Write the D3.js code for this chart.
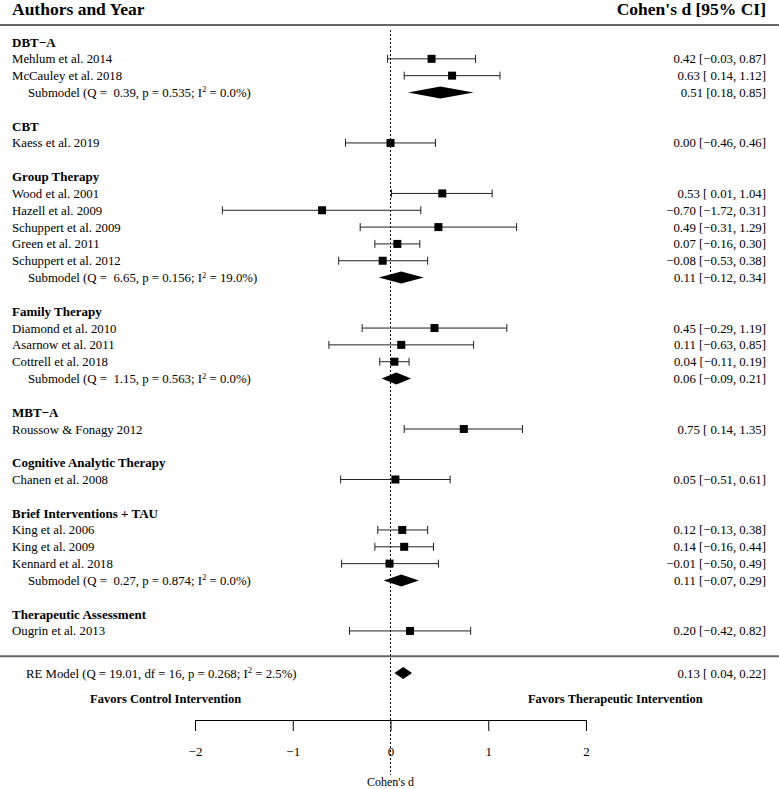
<!DOCTYPE html>
<html><head><meta charset="utf-8">
<script src="https://cdn.jsdelivr.net/npm/d3@7"></script>
<style>
body{margin:0;background:#fff;}
text{font-family:"Liberation Serif","Times New Roman",serif;fill:#000;white-space:pre;}
</style></head>
<body><svg id="c" width="779" height="789"></svg>
<script>
// ---- data ----
const groups = ["DBT−A","CBT","Group Therapy","Family Therapy","MBT−A","Cognitive Analytic Therapy","Brief Interventions + TAU","Therapeutic Assessment"];
const studies = ["Mehlum et al. 2014","McCauley et al. 2018","Kaess et al. 2019","Wood et al. 2001","Hazell et al. 2009","Schuppert et al. 2009","Green et al. 2011","Schuppert et al. 2012","Diamond et al. 2010","Asarnow et al. 2011","Cottrell et al. 2018","Roussow & Fonagy 2012","Chanen et al. 2008","King et al. 2006","King et al. 2009","Kennard et al. 2018","Ougrin et al. 2013"];
const studyGroup = [0,0,1,2,2,2,2,2,3,3,3,4,5,6,6,6,7];
const studyEst = [0.42,0.63,0.00,0.53,-0.70,0.49,0.07,-0.08,0.45,0.11,0.04,0.75,0.05,0.12,0.14,-0.01,0.20];
const studyLo  = [-0.03,0.14,-0.46,0.01,-1.72,-0.31,-0.16,-0.53,-0.29,-0.63,-0.11,0.14,-0.51,-0.13,-0.16,-0.50,-0.42];
const studyHi  = [0.87,1.12,0.46,1.04,0.31,1.29,0.30,0.38,1.19,0.85,0.19,1.35,0.61,0.38,0.44,0.49,0.82];
const subGroup = [0,2,3,6];
const subQ  = ["0.39","6.65","1.15","0.27"];
const subP  = ["0.535","0.156","0.563","0.874"];
const subI2 = ["0.0","19.0","0.0","0.0"];
const subEst = [0.51,0.11,0.06,0.11];
const subLo  = [0.18,-0.12,-0.09,-0.07];
const subHi  = [0.85,0.34,0.21,0.29];
const reStats = {Q:"19.01", df:"16", p:"0.268", I2:"2.5"};
const reEst = 0.13, reLo = 0.04, reHi = 0.22;
const axisTicks = [-2,-1,0,1,2];

// ---- layout rows ----
const rows = [];
let r = 0;
groups.forEach((g,gi)=>{
  rows.push({type:"group", label:g, row:r++});
  studies.forEach((s,si)=>{ if(studyGroup[si]===gi) rows.push({type:"study", label:s, est:studyEst[si], lo:studyLo[si], hi:studyHi[si], row:r++}); });
  const sj = subGroup.indexOf(gi);
  if(sj>=0) rows.push({type:"sub", Q:subQ[sj], p:subP[sj], I2:subI2[sj], est:subEst[sj], lo:subLo[sj], hi:subHi[sj], row:r++});
  r++;
});
const lastRow = r - 2;
const sepRow = lastRow + 1.5, reRow = lastRow + 2.5;

const svg = d3.select("#c");
const W = 779;
const x = d3.scaleLinear().domain([-2,2]).range([195,586]);
const y = d3.scaleLinear().domain([0,reRow]).range([42,673]);
const fmt = v => (v<0?"−":"") + Math.abs(v).toFixed(2);
const ciText = (d,pad) => fmt(d.est) + " [" + (pad && d.lo>=0 ? " " : "") + fmt(d.lo) + ", " + fmt(d.hi) + "]";

// header
svg.append("text").attr("x",12).attr("y",15).attr("font-size",17.5).attr("font-weight","bold").text("Authors and Year");
svg.append("text").attr("x",766).attr("y",15).attr("text-anchor","end").attr("font-size",17.5).attr("font-weight","bold").text("Cohen's d [95% CI]");
svg.append("line").attr("x1",0).attr("x2",W).attr("y1",25).attr("y2",25).attr("stroke","#666").attr("stroke-width",2);
svg.append("line").attr("x1",0).attr("x2",W).attr("y1",y(sepRow)).attr("y2",y(sepRow)).attr("stroke","#666").attr("stroke-width",2);

// reference line
svg.append("line").attr("x1",x(0)).attr("x2",x(0)).attr("y1",30).attr("y2",775)
  .attr("stroke","#000").attr("stroke-dasharray","2,2").attr("stroke-width",1);

const fs = 12.8, fsb = 13;
function I2text(sel, pre, i2){
  sel.append("tspan").text(pre + "I");
  sel.append("tspan").attr("dy",-4.5).attr("font-size",8.5).text("2");
  sel.append("tspan").attr("dy",4.5).text(" = " + i2 + "%)");
}

rows.forEach(d=>{
  const yy = y(d.row);
  if(d.type==="group"){
    svg.append("text").attr("x",12).attr("y",yy+4.5).attr("font-size",fsb).attr("font-weight","bold").text(d.label);
  } else if(d.type==="study"){
    svg.append("text").attr("x",12).attr("y",yy+4.5).attr("font-size",fs).text(d.label);
    svg.append("line").attr("x1",x(d.lo)).attr("x2",x(d.hi)).attr("y1",yy).attr("y2",yy).attr("stroke","#222").attr("stroke-width",1);
    [d.lo,d.hi].forEach(v=>svg.append("line").attr("x1",x(v)).attr("x2",x(v)).attr("y1",yy-4).attr("y2",yy+4).attr("stroke","#222").attr("stroke-width",1));
    svg.append("rect").attr("x",x(d.est)-4).attr("y",yy-4).attr("width",8).attr("height",8).attr("fill","#000");
    svg.append("text").attr("x",766).attr("y",yy+4.5).attr("text-anchor","end").attr("font-size",fs).text(ciText(d,true));
  } else {
    const t = svg.append("text").attr("x",28).attr("y",yy+4.5).attr("font-size",fs);
    I2text(t, "Submodel (Q = " + d.Q.padStart(5," ") + ", p = " + d.p + "; ", d.I2);
    svg.append("path").attr("d",`M${x(d.lo)},${yy}L${x(d.est)},${yy-6}L${x(d.hi)},${yy}L${x(d.est)},${yy+6}Z`).attr("fill","#000");
    svg.append("text").attr("x",766).attr("y",yy+4.5).attr("text-anchor","end").attr("font-size",fs).text(ciText(d, d.est < 0.2));
  }
});

// RE model
const yr = y(reRow);
const tr = svg.append("text").attr("x",26).attr("y",yr+4.5).attr("font-size",fs);
I2text(tr, "RE Model (Q = " + reStats.Q + ", df = " + reStats.df + ", p = " + reStats.p + "; ", reStats.I2);
svg.append("path").attr("d",`M${x(reLo)},${yr}L${x(reEst)},${yr-6}L${x(reHi)},${yr}L${x(reEst)},${yr+6}Z`).attr("fill","#000");
svg.append("text").attr("x",766).attr("y",yr+4.5).attr("text-anchor","end").attr("font-size",fs).text(ciText({est:reEst,lo:reLo,hi:reHi},true));

// favors labels
svg.append("text").attr("x",x(-2.3)).attr("y",703).attr("text-anchor","middle").attr("font-size",12.5).attr("font-weight","bold").text("Favors Control Intervention");
svg.append("text").attr("x",x(2.3)).attr("y",703).attr("text-anchor","middle").attr("font-size",12.5).attr("font-weight","bold").text("Favors Therapeutic Intervention");

// axis
const ax = svg.append("g").attr("transform","translate(0,720)")
  .call(d3.axisBottom(x).tickValues(axisTicks).tickSize(11).tickPadding(16).tickFormat(d3.format("d")));
ax.select(".domain").attr("stroke","#000");
ax.selectAll(".tick line").attr("stroke","#000");
ax.selectAll(".tick text").attr("font-size",13).attr("font-family","Liberation Serif").attr("fill","#000");
svg.append("text").attr("x",x(0)).attr("y",786).attr("text-anchor","middle").attr("font-size",12).text("Cohen's d");
</script></body></html>
